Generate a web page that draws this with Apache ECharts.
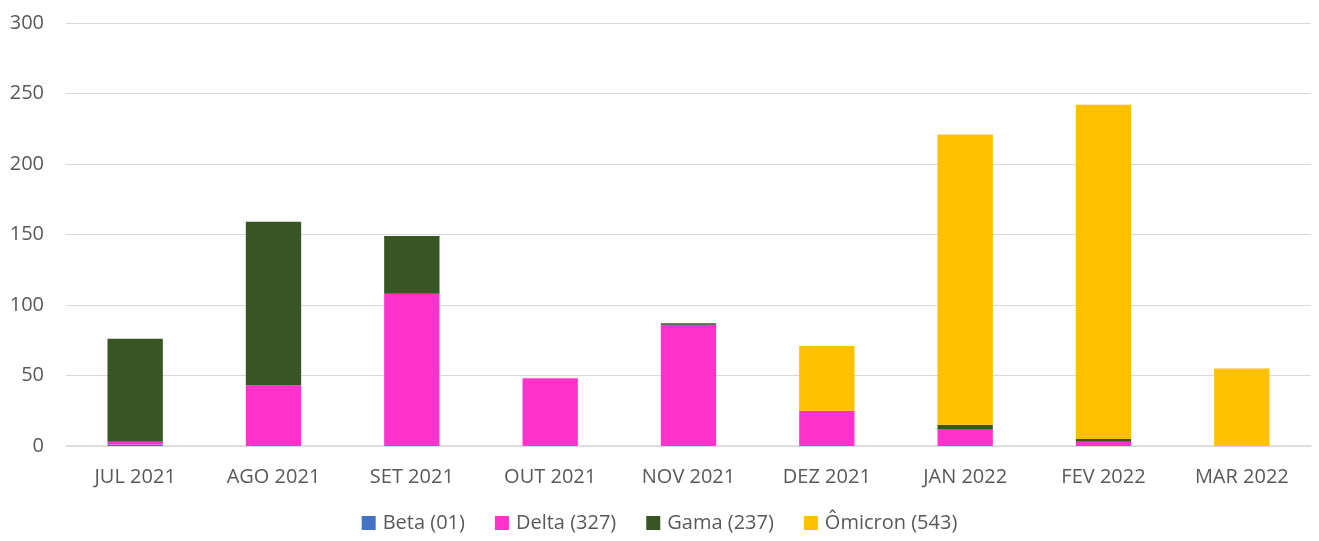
<!DOCTYPE html>
<html>
<head>
<meta charset="utf-8">
<script src="https://cdn.jsdelivr.net/npm/echarts@6/dist/echarts.min.js"></script>
<style>
  html, body { margin: 0; padding: 0; background: #fff; }
  #chart { width: 1319px; height: 541px; }
</style>
</head>
<body>
<div id="chart"></div>
<script>
  const months = ['JUL 2021', 'AGO 2021', 'SET 2021', 'OUT 2021', 'NOV 2021', 'DEZ 2021', 'JAN 2022', 'FEV 2022', 'MAR 2022'];
  const beta = [1, 0, 0, 0, 0, 0, 0, 0, 0];
  const delta = [2, 43, 108, 48, 86, 25, 12, 3, 0];
  const gama = [73, 116, 41, 0, 1, 0, 3, 2, 0];
  const omicron = [0, 0, 0, 0, 0, 46, 206, 237, 55];

  const chart = echarts.init(document.getElementById('chart'));
  const textColor = '#595959';
  const font = '"Open Sans", "DejaVu Sans", sans-serif';

  function makeSeries(name, data, color) {
    return {
      name,
      type: 'bar',
      stack: 'total',
      barWidth: '40%',
      itemStyle: { color },
      data,
    };
  }

  chart.setOption({
    animation: false,
    textStyle: { fontFamily: font },
    grid: { left: 66, right: 8, top: 23, bottom: 95 },
    legend: {
      bottom: 3,
      left: 'center',
      itemWidth: 14,
      itemHeight: 14,
      itemGap: 30,
      icon: 'rect',
      textStyle: { color: textColor, fontSize: 20, fontFamily: font, padding: [0, 0, 0, 2] },
      data: ['Beta (01)', 'Delta (327)', 'Gama (237)', 'Ômicron (543)'],
    },
    xAxis: {
      type: 'category',
      data: months,
      axisLine: { lineStyle: { color: '#d9d9d9', width: 1.5 } },
      axisTick: { show: false },
      axisLabel: { color: textColor, fontSize: 20, margin: 21, fontFamily: font },
    },
    yAxis: {
      type: 'value',
      min: 0,
      max: 300,
      interval: 50,
      axisLine: { show: false },
      axisTick: { show: false },
      axisLabel: { color: textColor, fontSize: 20, margin: 22, fontFamily: font },
      splitLine: { lineStyle: { color: '#d9d9d9', width: 1.2 } },
    },
    series: [
      makeSeries('Beta (01)', beta, '#4472C4'),
      makeSeries('Delta (327)', delta, '#FF33CC'),
      makeSeries('Gama (237)', gama, '#375623'),
      makeSeries('Ômicron (543)', omicron, '#FFC000'),
    ],
  });
</script>
</body>
</html>
